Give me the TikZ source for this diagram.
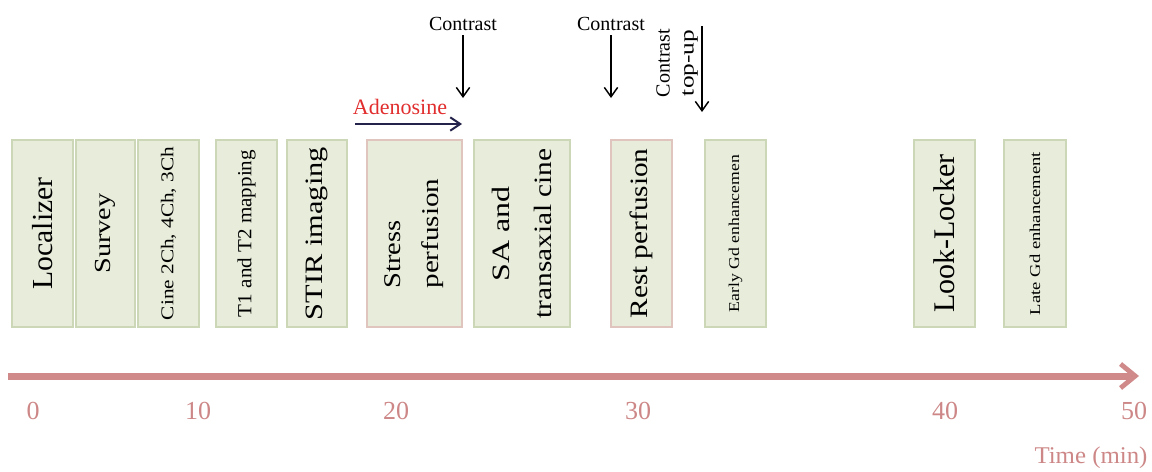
\documentclass[tikz,border=0pt]{standalone}
\usepackage{fontspec}
\setmainfont{Liberation Serif}
\usetikzlibrary{arrows.meta}
\newdimen\px \px=0.75pt
\newcommand\fx[2]{\resizebox{#1\px}{\height}{#2}}
\definecolor{boxfill}{RGB}{231,237,218}
\definecolor{boxdraw}{RGB}{203,215,183}
\definecolor{pinkdraw}{RGB}{224,196,190}
\definecolor{tl}{RGB}{208,138,138}
\definecolor{tltext}{RGB}{205,135,135}
\definecolor{adered}{RGB}{225,45,45}
\definecolor{navy}{RGB}{35,35,75}
\begin{document}
\begin{tikzpicture}[x=0.75pt,y=-0.75pt,
  box/.style={draw=boxdraw, fill=boxfill, line width=1.1pt, rotate=90, inner sep=0pt,
              minimum width=140.25pt, align=center},
  pbox/.style={box, draw=pinkdraw},
  lbl/.style={font=\fontsize{15}{18}\selectfont, inner sep=0pt},
  darr/.style={-{Straight Barb[length=7pt,width=10pt]}, line width=1.1pt, black},
  tick/.style={font=\fontsize{19.5}{22}\selectfont, text=tltext, inner sep=0pt}
]
\useasboundingbox (0,0) rectangle (1152,471);

% boxes
\node[box, minimum height=45.75pt, font=\fontsize{21.75}{26}\selectfont] (loc) at (42.5,233.5) {\fx{112}{Localizer}};
\node[box, minimum height=44.25pt, font=\fontsize{17.25}{20}\selectfont] (sur) at (105.5,233.5) {\fx{80}{Survey}};
\node[box, minimum height=45.75pt, font=\fontsize{13.5}{16}\selectfont] (cine) at (168.5,233.5) {\fx{173}{Cine 2Ch, 4Ch, 3Ch}};
\node[box, minimum height=45.75pt, font=\fontsize{15}{18}\selectfont] (t12) at (246.5,233.5) {\fx{167}{T1 and T2 mapping}};
\node[box, minimum height=45pt, font=\fontsize{18.75}{22}\selectfont] (stir) at (317,233.5) {\fx{173}{STIR imaging}};
\node[pbox, minimum height=71.25pt, align=left, font=\fontsize{18}{28.5}\selectfont] (stress) at (414.5,233.5) {\fx{68}{Stress}\\\fx{110}{perfusion}};
\node[box, minimum height=72pt, font=\fontsize{18.75}{31.5}\selectfont] (sa) at (522,233.5) {\fx{95}{SA and}\\\fx{170}{transaxial cine}};
\node[pbox, minimum height=45.75pt, font=\fontsize{18.75}{22}\selectfont] (rest) at (641.5,233.5) {\fx{170}{Rest perfusion}};
\node[box, minimum height=45.75pt, font=\fontsize{11.25}{14}\selectfont] (early) at (735.5,233.5) {\fx{157}{Early Gd enhancemen}};
\node[box, minimum height=45.75pt, font=\fontsize{22.5}{26}\selectfont] (look) at (944.5,233.5) {\fx{158}{Look-Locker}};
\node[box, minimum height=46.5pt, font=\fontsize{11.25}{14}\selectfont] (late) at (1035,233.5) {\fx{163}{Late Gd enhancement}};

% contrast arrows
\node[lbl] (c1) at (463,24) {Contrast};
\coordinate (c1a) at (463,35);
\coordinate (c1b) at (463,98);
\draw[darr] (c1a) -- (c1b);

\node[lbl] (c2) at (611,24) {Contrast};
\coordinate (c2a) at (611,35);
\coordinate (c2b) at (611,98);
\draw[darr] (c2a) -- (c2b);

\node[lbl, rotate=90, align=center, font=\fontsize{15}{18}\selectfont] (c3) at (677,63) {\fx{68}{Contrast}\\\fx{66}{top-up}};
\coordinate (c3a) at (702,26);
\coordinate (c3b) at (702,112);
\draw[darr] (c3a) -- (c3b);

% adenosine
\node[inner sep=0pt, text=adered, font=\fontsize{16.5}{20}\selectfont] (ade) at (400,107) {Adenosine};
\coordinate (adea) at (355,124);
\coordinate (adeb) at (462,124);
\draw[-{Straight Barb[length=7.5pt,width=10pt]}, line width=1.5pt, navy] (adea) -- (adeb);

% timeline
\coordinate (ta) at (8,376);
\coordinate (tb) at (1139,376);
\draw[tl, line width=5.25pt, -{Straight Barb[length=11pt,width=18pt,line width=3.6pt]}] (ta) -- (tb);

\node[tick] (l0) at (33,411) {0};
\node[tick] (l10) at (198,411) {10};
\node[tick] (l20) at (396,411) {20};
\node[tick] (l30) at (638,411) {30};
\node[tick] (l40) at (945,411) {40};
\node[tick] (l50) at (1134,411) {50};
\node[tick, font=\fontsize{18}{22}\selectfont] (time) at (1091,458) {\fx{113}{Time (min)}};
\end{tikzpicture}
\end{document}
